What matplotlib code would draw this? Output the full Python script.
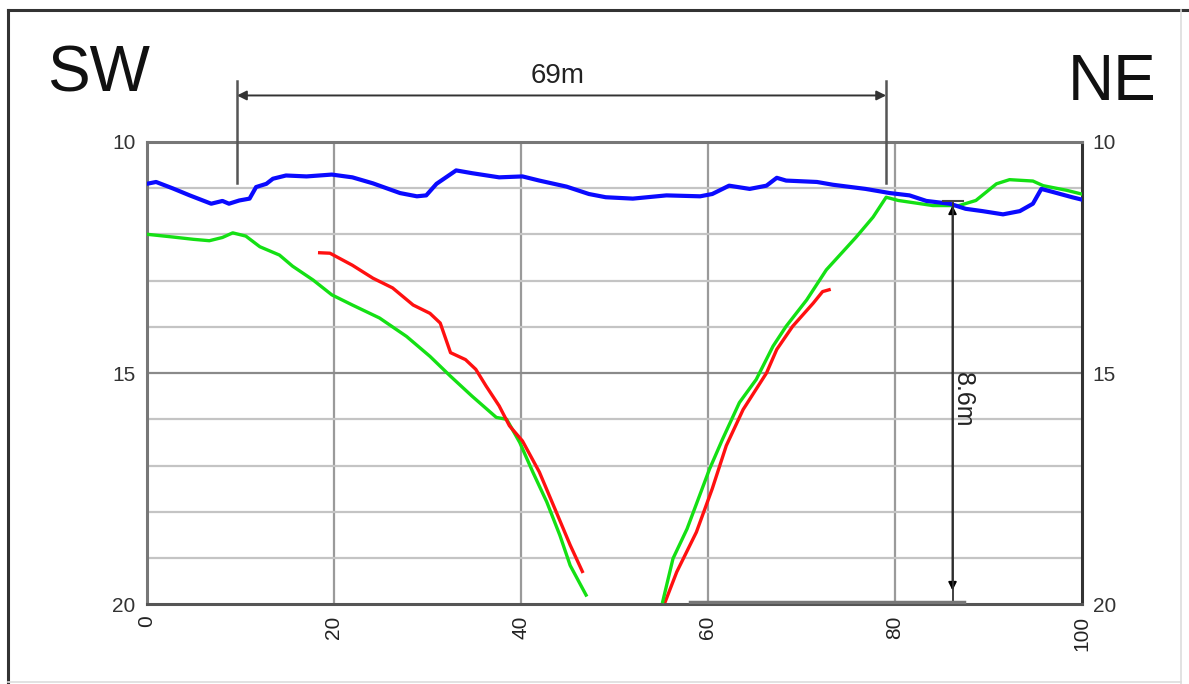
import matplotlib
matplotlib.use('Agg')
import matplotlib.pyplot as plt
from matplotlib.lines import Line2D

plt.rcParams['font.family'] = ['Liberation Sans', 'DejaVu Sans']

# Perfil SW - NE (distancia en m, profundidad en m)
azul_x = [0, 1.0, 2.8, 4.6, 6.9, 8.1, 8.8, 9.9, 11.0, 11.7, 12.8, 13.5, 14.9, 17.1, 19.8,
          22.0, 24.2, 27.1, 28.9, 29.9, 31.0, 33.1, 34.8, 37.7, 40.2, 42.0, 44.9, 47.3, 49.1,
          52.0, 55.6, 59.2, 60.5, 62.3, 64.5, 66.3, 67.4, 68.4, 71.7, 73.4, 76.9, 79.5, 81.6,
          83.4, 85.9, 87.6, 89.4, 91.6, 93.4, 94.8, 95.7, 97.0, 99.0, 100]
azul_y = [10.91, 10.87, 11.01, 11.16, 11.34, 11.28, 11.34, 11.27, 11.23, 10.98, 10.91, 10.80,
          10.73, 10.75, 10.71, 10.77, 10.90, 11.11, 11.18, 11.16, 10.91, 10.62, 10.68, 10.77,
          10.75, 10.84, 10.97, 11.13, 11.20, 11.23, 11.16, 11.18, 11.13, 10.95, 11.02, 10.95,
          10.78, 10.84, 10.87, 10.93, 11.02, 11.11, 11.16, 11.28, 11.34, 11.45, 11.50, 11.57,
          11.50, 11.34, 11.02, 11.09, 11.20, 11.25]

verde_izq_x = [0, 2.8, 5.0, 6.7, 8.1, 9.2, 10.6, 12.1, 14.2, 15.6, 17.8, 19.8, 22.0, 24.9,
               27.8, 30.3, 32.5, 34.8, 37.4, 38.5, 39.9, 41.3, 42.8, 44.2, 45.3, 47.0]
verde_izq_y = [12.00, 12.06, 12.11, 12.14, 12.07, 11.97, 12.04, 12.27, 12.45, 12.69, 12.99,
               13.31, 13.53, 13.81, 14.21, 14.64, 15.07, 15.50, 15.96, 16.00, 16.50, 17.14,
               17.79, 18.51, 19.16, 19.80]
verde_der_x = [55.2, 56.3, 57.8, 60.2, 61.6, 63.4, 65.2, 67.0, 68.4, 70.6, 72.7, 75.9, 77.7,
               79.1, 80.4, 84.1, 86.9, 88.7, 90.9, 92.3, 94.8, 95.9, 98.4, 100]
verde_der_y = [19.94, 19.01, 18.37, 17.08, 16.43, 15.64, 15.14, 14.42, 13.99, 13.42, 12.77,
               12.06, 11.63, 11.20, 11.27, 11.38, 11.38, 11.27, 10.91, 10.82, 10.85, 10.95,
               11.05, 11.13]

rojo_izq_x = [18.5, 19.6, 22.0, 24.2, 26.3, 28.5, 30.3, 31.4, 32.5, 34.1, 35.2, 36.3, 37.7,
              38.8, 40.2, 42.0, 43.8, 45.3, 46.6]
rojo_izq_y = [12.40, 12.41, 12.67, 12.95, 13.16, 13.53, 13.71, 13.92, 14.56, 14.71, 14.92,
              15.28, 15.71, 16.14, 16.47, 17.14, 18.00, 18.72, 19.29]
rojo_der_x = [55.4, 56.7, 58.8, 60.5, 62.0, 63.8, 66.3, 67.4, 69.1, 71.3, 72.3, 73.0]
rojo_der_y = [19.98, 19.30, 18.44, 17.50, 16.57, 15.79, 15.00, 14.49, 13.99, 13.49, 13.24, 13.20]

x_ticks = [0, 20, 40, 60, 80, 100]
y_ticks = [10, 15, 20]

fig = plt.figure(figsize=(11.89, 6.84), dpi=100)
ax = fig.add_axes([0.1234, 0.1165, 0.7862, 0.6763])

# rejilla: verticales cada 20 m, horizontales cada 1 m
for xv in x_ticks[1:-1]:
    ax.axvline(xv, color='#9a9a9a', lw=1.6, zorder=1)
for yv in range(11, 20):
    c = '#8a8a8a' if yv == 15 else '#c4c4c4'
    ax.axhline(yv, color=c, lw=1.6, zorder=1)

ax.plot(verde_izq_x, verde_izq_y, color='#14e014', lw=2.4, zorder=3)
ax.plot(verde_der_x, verde_der_y, color='#14e014', lw=2.4, zorder=3)
ax.plot(rojo_izq_x, rojo_izq_y, color='#ff1010', lw=2.4, zorder=4)
ax.plot(rojo_der_x, rojo_der_y, color='#ff1010', lw=2.4, zorder=2)
ax.plot(azul_x, azul_y, color='#0a0aff', lw=3.0, zorder=5)

ax.set_xlim(0, 100)
ax.set_ylim(20, 10)
ax.set_xticks(x_ticks)
ax.set_yticks(y_ticks)
ax.set_xticklabels([str(v) for v in x_ticks], rotation=90, fontsize=15, color='#222222')
ax.tick_params(axis='x', length=0, pad=8)
ax.tick_params(axis='y', length=0, pad=8, labelsize=15, labelcolor='#333333',
               left=True, right=True, labelleft=True, labelright=True)
for lado, col in [('left', '#777777'), ('top', '#777777'), ('right', '#333333'), ('bottom', '#555555')]:
    ax.spines[lado].set_color(col)
    ax.spines[lado].set_linewidth(2.2)

# cota horizontal 69m
for xc in [9.65, 79.1]:
    ax.plot([xc, xc], [8.68, 10.9], color='#555555', lw=1.8, clip_on=False, zorder=6)
ax.annotate('', xy=(9.65, 9.0), xytext=(79.1, 9.0), annotation_clip=False,
            arrowprops=dict(arrowstyle='<|-|>', color='#333333', lw=1.4,
                            mutation_scale=14, shrinkA=0, shrinkB=0))
ax.text(44.0, 8.58, '69m', fontsize=20, ha='center', va='center', color='#222222',
        clip_on=False)

# cota vertical 8.6m
ax.plot([86.2, 86.2], [11.3, 19.95], color='#333333', lw=1.3, zorder=6)
ax.plot([85.2, 87.3], [11.29, 11.29], color='#444444', lw=1.5, zorder=6)
ax.annotate('', xy=(86.2, 11.38), xytext=(86.2, 19.7),
            arrowprops=dict(arrowstyle='<|-|>', color='black', lw=1.3,
                            mutation_scale=12, shrinkA=0, shrinkB=0))
ax.text(87.3, 15.58, '8.6m', fontsize=18, rotation=-90, ha='center', va='center',
        color='#222222')
ax.plot([58.1, 87.4], [19.95, 19.95], color='#777777', lw=2.5, zorder=6)

fig.text(47 / 1189, 1 - 92 / 684, 'SW', fontsize=46, color='#111111', ha='left', va='baseline')
fig.text(1068 / 1189, 1 - 100 / 684, 'NE', fontsize=46, color='#111111', ha='left', va='baseline')

# marco exterior
fig.add_artist(Line2D([8 / 1189, 1], [1 - 10 / 684, 1 - 10 / 684], color='#333333', lw=2.2))
fig.add_artist(Line2D([8 / 1189, 8 / 1189], [0, 1 - 10 / 684], color='#333333', lw=2.2))
fig.add_artist(Line2D([1181 / 1189, 1181 / 1189], [0, 1 - 10 / 684], color='#dddddd', lw=1.2))
fig.add_artist(Line2D([8 / 1189, 1181 / 1189], [2 / 684, 2 / 684], color='#dddddd', lw=1.2))

fig.savefig('out.png', dpi=100)
